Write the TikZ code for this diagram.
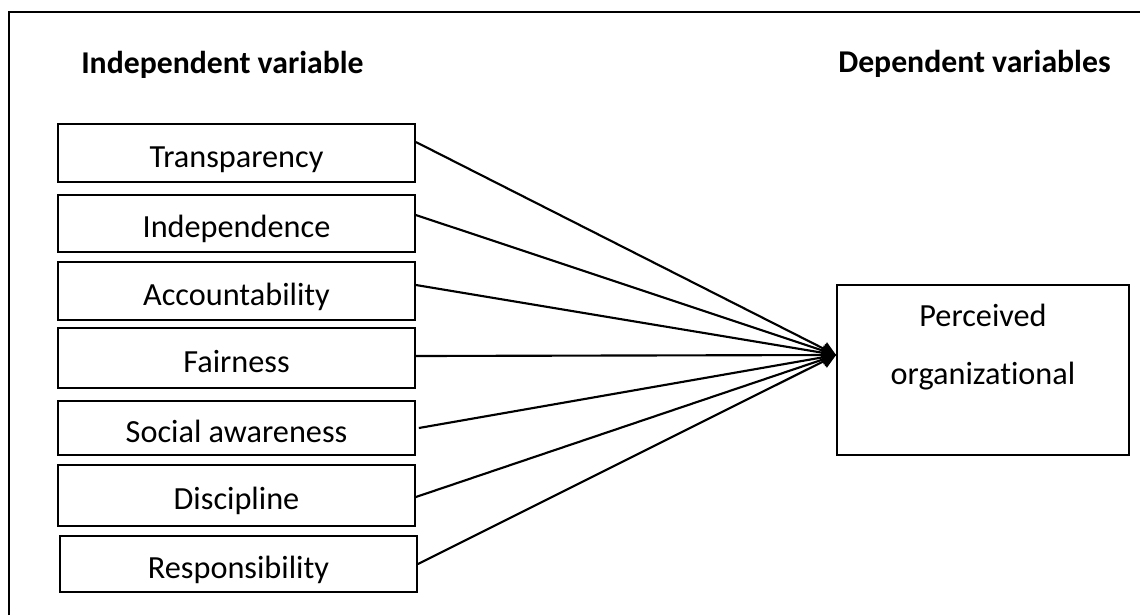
\documentclass[tikz,border=0pt]{standalone}
\usepackage{fontspec}
\setmainfont[Ligatures=NoCommon]{Carlito}
\usetikzlibrary{arrows.meta,calc}
\begin{document}
\begin{tikzpicture}[x=0.75pt,y=-0.75pt,
  txt/.style={font=\fontsize{24.2}{29}\selectfont},
  varbox/.style={draw, line width=1.3pt, minimum width=267.75pt, inner sep=0pt,
    text height=24pt, text depth=3pt, txt},
  depbox/.style={draw, line width=1.3pt, minimum width=219pt, minimum height=127.5pt, inner sep=0pt},
  title/.style={font=\fontsize{23.8}{29}\selectfont\bfseries, anchor=base west, inner sep=0pt},
  link/.style={line width=1.6pt, -{Triangle[length=10.5pt,width=10.5pt]}},
  frame/.style={line width=1.5pt}
]
\useasboundingbox (0,0) rectangle (1140,615);
\draw[frame] (9,615) -- (9,12) -- (1140,12);

\node[title] (ti) at (81,73) {Independent variable};
\node[title] (td) at (838,72) {Dependent variables};

\node[varbox, minimum height=43.5pt]  (b1) at (236.5,153)   {Transparency};
\node[varbox, minimum height=42.75pt] (b2) at (236.5,223.5) {Independence};
\node[varbox, minimum height=43.5pt]  (b3) at (236.5,291)   {Accountability};
\node[varbox, minimum height=45pt]    (b4) at (236.5,358)   {Fairness};
\node[varbox, minimum height=40.5pt]  (b5) at (236.5,428)   {Social awareness};
\node[varbox, minimum height=45.75pt] (b6) at (236.5,495.5) {Discipline};
\node[varbox, minimum height=42pt]    (b7) at (238.5,564)   {Responsibility};

\node[depbox] (p) at (983,370) {};
\node[txt, anchor=base, inner sep=0pt] (p1) at ($(p.north)+(0,42)$) {Perceived};
\node[txt, anchor=base, inner sep=0pt] (p2) at ($(p.north)+(0,100)$) {organizational};
\coordinate (tip) at ($(p.west)+(0,-15)$);

\draw[link] ($(b1.east)+(0,-11)$) -- (tip);
\draw[link] ($(b2.east)+(0,-8.5)$) -- (tip);
\draw[link] ($(b3.east)+(0,-6)$) -- (tip);
\draw[link] ($(b4.east)+(0,-2)$) -- (tip);
\draw[link] ($(b5.east)+(3,0)$) -- (tip);
\draw[link] ($(b6.east)+(0,1.5)$) -- (tip);
\draw[link] ($(b7.east)+(0,0)$) -- (tip);
\end{tikzpicture}
\end{document}
